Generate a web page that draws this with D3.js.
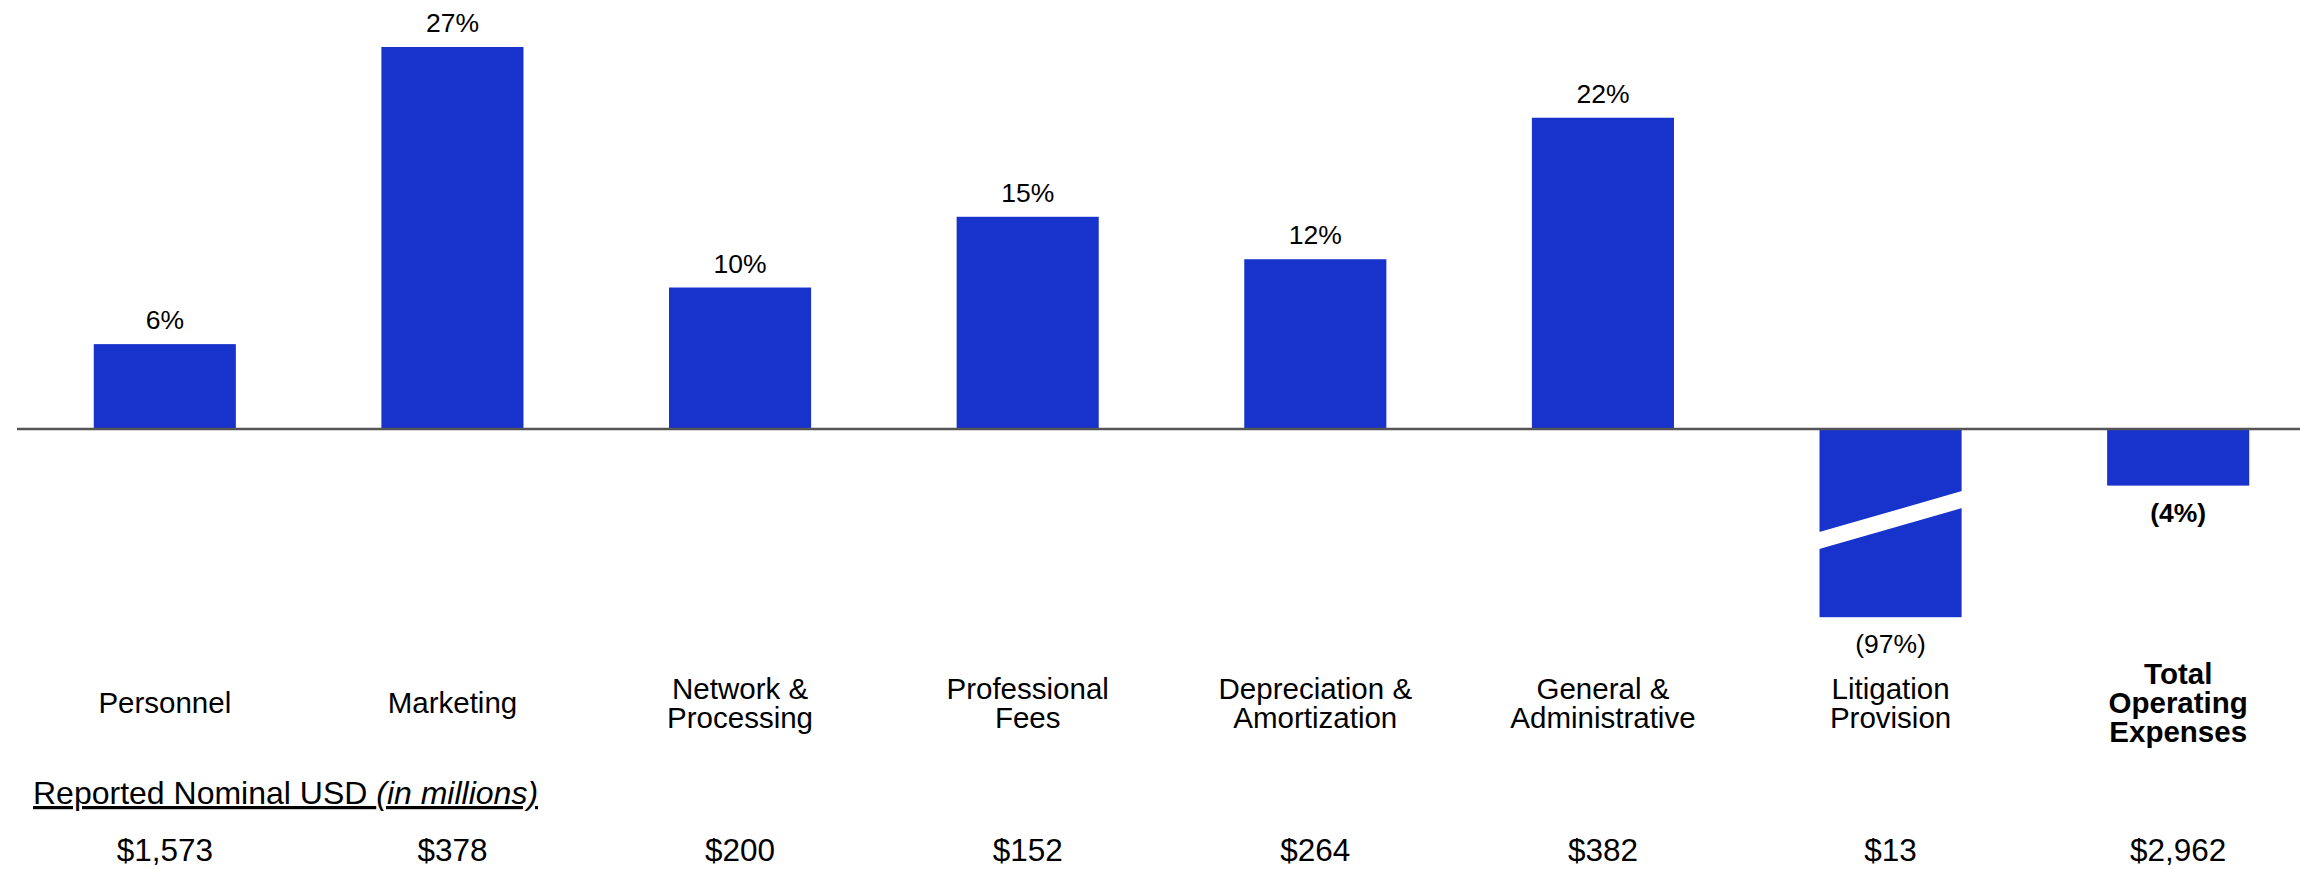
<!DOCTYPE html>
<html>
<head>
<meta charset="utf-8">
<script src="https://cdn.jsdelivr.net/npm/d3@7"></script>
<style>
  html, body { margin: 0; padding: 0; background: #fff; }
  svg { display: block; font-family: "Liberation Sans", Arial, Helvetica, sans-serif; }
</style>
</head>
<body>
<svg id="chart" width="2300" height="869"></svg>
<script>
// Operating expense categories (label lines as printed under each bar)
const categories = [
  "Personnel", "Marketing", "Network & Processing", "Professional Fees",
  "Depreciation & Amortization", "General & Administrative",
  "Litigation Provision", "Total Operating Expenses"
];
const categoryLines = [
  ["Personnel"], ["Marketing"], ["Network &", "Processing"], ["Professional", "Fees"],
  ["Depreciation &", "Amortization"], ["General &", "Administrative"],
  ["Litigation", "Provision"], ["Total", "Operating", "Expenses"]
];
// Year-over-year change, percent
const changePct = [6, 27, 10, 15, 12, 22, -97, -4];
// Reported nominal USD, in millions
const reportedUSD = [1573, 378, 200, 152, 264, 382, 13, 2962];
// The summary column is set in bold
const totalCategory = "Total Operating Expenses";
// Visible value window; bars beyond it are drawn with a break
const yDomain = [-13.3, 27];

const svg = d3.select("#chart");
const W = 2300, H = 869;
svg.append("rect").attr("width", W).attr("height", H).attr("fill", "#fff");

const BAR = "#1733cc";

const x = d3.scaleBand()
  .domain(categories)
  .range([21, 2322])
  .paddingInner(0.506)
  .paddingOuter(0.253);

const y = d3.scaleLinear()
  .domain(yDomain)
  .range([617.2, 47])
  .clamp(true);

const data = categories.map((c, i) => ({
  cat: c, lines: categoryLines[i], v: changePct[i], usd: reportedUSD[i],
  bold: c === totalCategory
}));

const pctFmt = v => v < 0 ? `(${Math.abs(v)}%)` : `${v}%`;
const usdFmt = d3.format("$,");
const cx = d => x(d.cat) + x.bandwidth() / 2;

// Bars
svg.append("g").selectAll("rect")
  .data(data).join("rect")
  .attr("x", d => x(d.cat))
  .attr("width", x.bandwidth())
  .attr("y", d => Math.min(y(0), y(d.v)))
  .attr("height", d => Math.abs(y(d.v) - y(0)))
  .attr("fill", BAR);

// Slanted break across bars that run past the visible window
const broken = data.filter(d => d.v < yDomain[0]);
svg.append("g").selectAll("path")
  .data(broken).join("path")
  .attr("fill", "#fff")
  .attr("d", d => {
    const x0 = x(d.cat) - 2, x1 = x(d.cat) + x.bandwidth() + 2;
    const mid = (y(0) + y(d.v)) / 2 - 3;
    const rise = 21, gap = 8.5;
    return `M${x0},${mid + rise - gap} L${x1},${mid - rise - gap} L${x1},${mid - rise + gap} L${x0},${mid + rise + gap} Z`;
  });

// Zero baseline
svg.append("line")
  .attr("x1", 17).attr("x2", W)
  .attr("y1", y(0)).attr("y2", y(0))
  .attr("stroke", "#555").attr("stroke-width", 2.6);

// Percent labels: above positive bars, below negative ones
svg.append("g").selectAll("text")
  .data(data).join("text")
  .attr("x", cx)
  .attr("y", d => d.v >= 0 ? y(d.v) - 15 : y(d.v) + 36)
  .attr("text-anchor", "middle")
  .attr("font-size", 26.5)
  .attr("font-weight", d => d.bold ? "bold" : "normal")
  .attr("fill", "#000")
  .text(d => pctFmt(d.v));

// Category labels, vertically centred on a common line
const lineH = 29, midLine = 702.5;
const cat = svg.append("g").selectAll("text")
  .data(data).join("text")
  .attr("text-anchor", "middle")
  .attr("font-size", 29.5)
  .attr("font-weight", d => d.bold ? "bold" : "normal")
  .attr("fill", "#000");
cat.selectAll("tspan")
  .data(d => d.lines.map((t, j) => ({ t, j, n: d.lines.length, cx: cx(d) })))
  .join("tspan")
  .attr("x", t => t.cx)
  .attr("y", t => midLine + (t.j - (t.n - 1) / 2) * lineH + 10.5)
  .text(t => t.t);

// Row heading for the dollar figures
const head = svg.append("text")
  .attr("x", 33).attr("y", 804)
  .attr("font-size", 32)
  .attr("fill", "#000")
  .style("text-decoration", "underline");
head.append("tspan").text("Reported Nominal USD ");
head.append("tspan").attr("font-style", "italic").text("(in millions)");

// Dollar figures
svg.append("g").selectAll("text")
  .data(data).join("text")
  .attr("x", cx)
  .attr("y", 861)
  .attr("text-anchor", "middle")
  .attr("font-size", 31.5)
  .attr("fill", "#000")
  .text(d => usdFmt(d.usd));
</script>
</body>
</html>
